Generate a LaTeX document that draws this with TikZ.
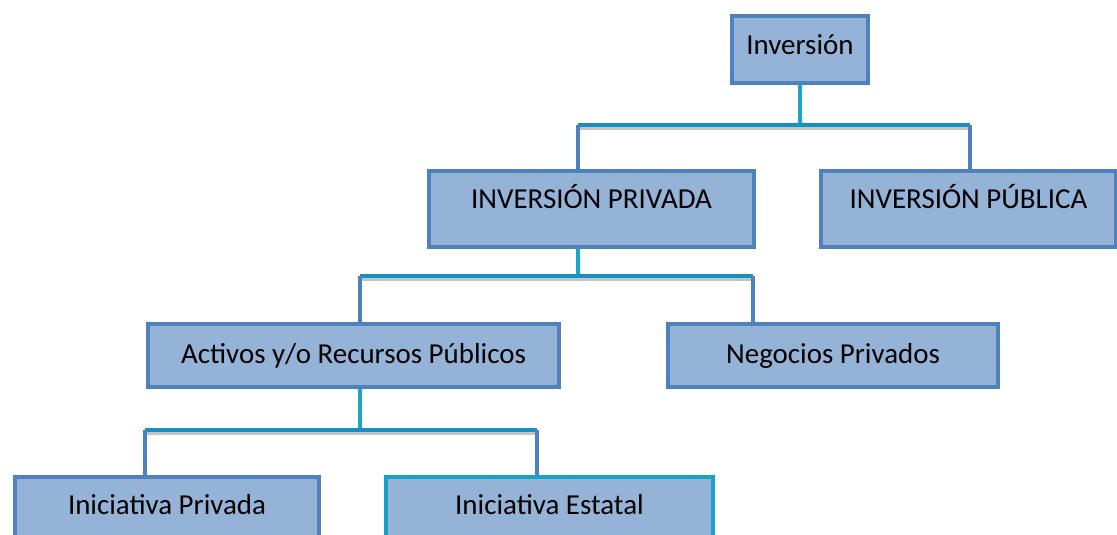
\documentclass[tikz,border=0pt]{standalone}
\usepackage{fontspec}
\setmainfont{Carlito}
\usetikzlibrary{calc}

\definecolor{rellenoazul}{HTML}{95B3D7}
\definecolor{bordeazul}{HTML}{4F81BD}
\definecolor{bordeturquesa}{HTML}{1BA1C2}
\definecolor{lineaazul}{HTML}{1590C0}
\definecolor{bajadaturquesa}{HTML}{1AA6C6}
\definecolor{sombragris}{HTML}{C4C4C4}

\tikzset{
  caja/.style={draw=bordeazul, fill=rellenoazul, line width=3pt, anchor=north west,
    inner sep=0pt, font=\fontsize{21.7}{26}\selectfont, text height=14pt},
  rama/.style={draw=lineaazul, line width=3pt},
  sombra/.style={draw=sombragris, line width=2.2pt},
  bajada/.style={draw=bajadaturquesa, line width=3pt},
  hijo/.style={draw=bordeazul, line width=3pt},
}

\begin{document}
\begin{tikzpicture}[x=0.75pt,y=0.75pt,yscale=-1,xscale=1]
        \useasboundingbox (0,0) rectangle (1117,535);
        \clip (0,0) rectangle (1117,535);

        %Branch points
        \coordinate (r1a) at (578,125);
        \coordinate (r1b) at (970,125);
        \coordinate (r2a) at (360,276);
        \coordinate (r2b) at (753,276);
        \coordinate (r3a) at (145,430);
        \coordinate (r3b) at (537,430);

        % Boxes
        \node[caja, minimum width=102pt, minimum height=50.25pt, text depth=6.8pt] (inv) at (730,14) {Inversión};
        \node[caja, minimum width=243.75pt, minimum height=57pt, text depth=14.2pt] (priv) at (427,169) {INVERSIÓN PRIVADA};
        \node[caja, minimum width=221.25pt, minimum height=57pt, text depth=14.2pt] (pub) at (819,169) {INVERSIÓN PÚBLICA};
        \node[caja, minimum width=308.25pt, minimum height=47.25pt, text depth=2pt] (act) at (146,322) {Activos y/o Recursos Públicos};
        \node[caja, minimum width=247.5pt, minimum height=47.25pt, text depth=2pt] (neg) at (666,322) {Negocios Privados};
        \node[caja, minimum width=228pt, minimum height=67.5pt, text depth=26pt] (inip) at (13,475) {Iniciativa Privada};
        \node[caja, draw=bordeturquesa, minimum width=245.25pt, minimum height=67.5pt, text depth=26pt] (inie) at (384,475) {Iniciativa Estatal};

        % Level 1
        \draw[bajada] (inv.south) -- (inv.south |- r1a);
        \draw[sombra] ($(r1a)+(0,3.5)$) -- ($(r1b)+(0,3.5)$);
        \draw[rama] (r1a) -- (r1b);
        \draw[hijo] (r1a) -- (r1a |- priv.north);
        \draw[hijo] (r1b) -- (r1b |- pub.north);

        % Level 2
        \draw[bajada] (r1a |- priv.south) -- (r1a |- r2a);
        \draw[sombra] ($(r2a)+(0,3.5)$) -- ($(r2b)+(0,3.5)$);
        \draw[rama] (r2a) -- (r2b);
        \draw[hijo] (r2a) -- (r2a |- act.north);
        \draw[hijo] (r2b) -- (r2b |- neg.north);

        % Level 3
        \draw[bajada] (r2a |- act.south) -- (r2a |- r3a);
        \draw[sombra] ($(r3a)+(0,3.5)$) -- ($(r3b)+(0,3.5)$);
        \draw[rama] (r3a) -- (r3b);
        \draw[hijo] (r3a) -- (r3a |- inip.north);
        \draw[hijo] (r3b) -- (r3b |- inie.north);
\end{tikzpicture}
\end{document}
